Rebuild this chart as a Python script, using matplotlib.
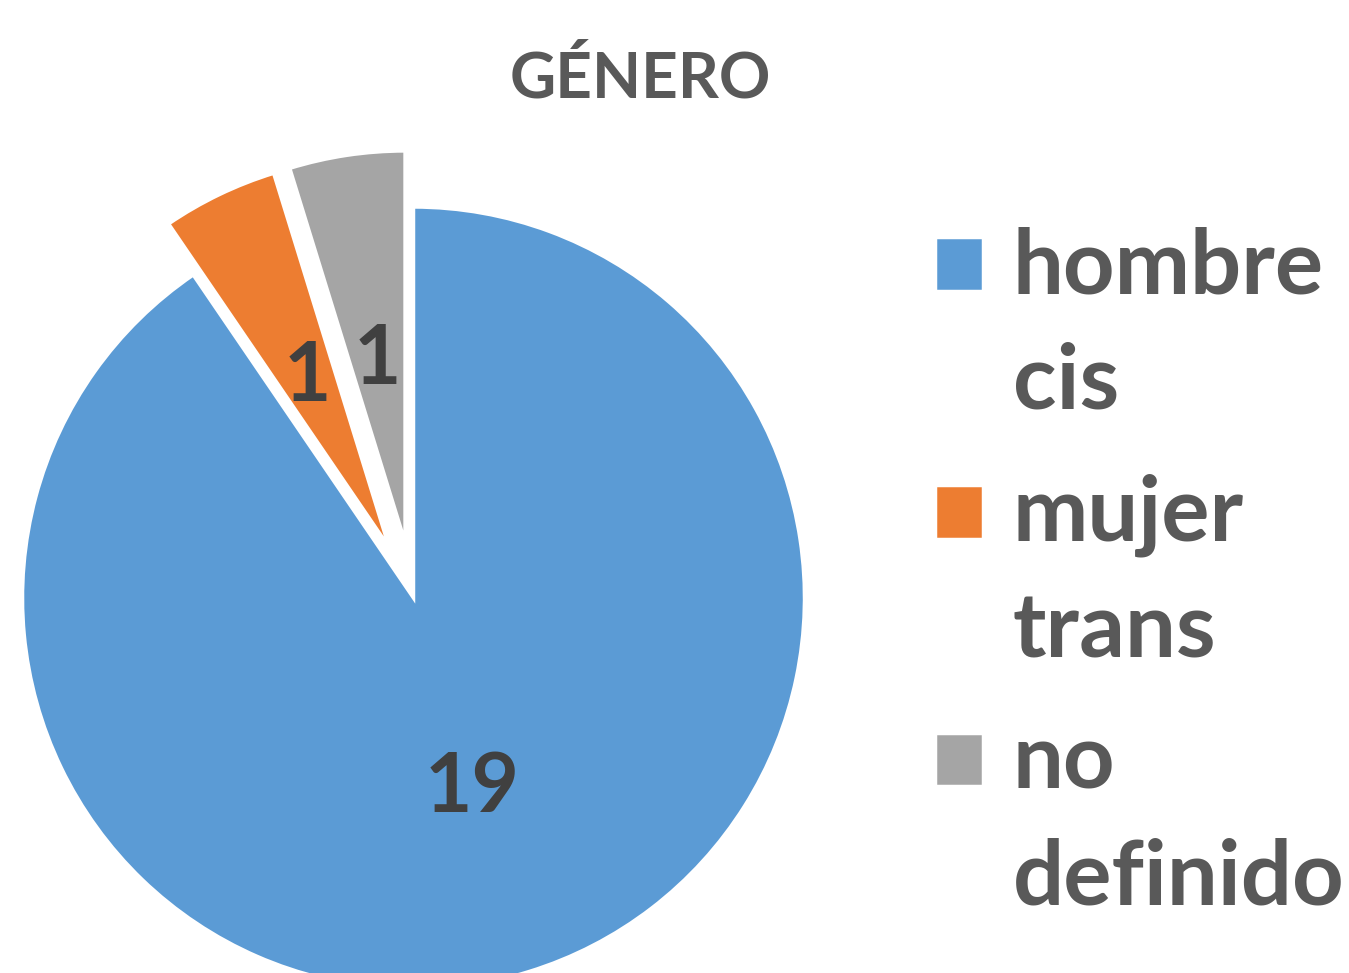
import matplotlib
matplotlib.use("Agg")
import matplotlib.pyplot as plt
import numpy as np
from matplotlib.patches import Rectangle
from matplotlib.legend_handler import HandlerPatch

categories = ["hombre\ncis", "mujer\ntrans", "no\ndefinido"]
values = [19, 1, 1]
colors = ["#5B9BD5", "#ED7D31", "#A5A5A5"]
explode = [0.0, 0.145, 0.145]
title = "GÉNERO"

plt.rcParams['font.family'] = ['Lato', 'DejaVu Sans']

W, H = 1349, 973
fig = plt.figure(figsize=(W / 100, H / 100), dpi=100)
ax = fig.add_axes([0, 0, 1, 1])

cx, cy, R = 413.5, 598, 391  # pixel position of centre and radius
wedges, texts, autotexts = ax.pie(
    values, colors=colors, explode=explode, startangle=90, counterclock=False,
    autopct=lambda p: f"{round(p * sum(values) / 100)}", pctdistance=0.48,
    wedgeprops=dict(edgecolor="white", linewidth=2.5),
    textprops=dict(fontsize=59, fontweight="bold", color="#404040"),
)
pct_d = [0.51, 0.48, 0.47]
for w, t, d in zip(wedges, autotexts, pct_d):
    ang = np.deg2rad((w.theta1 + w.theta2) / 2)
    x0, y0 = w.center
    t.set_position((x0 + d * w.r * np.cos(ang), y0 + d * w.r * np.sin(ang)))

ax.set_aspect('auto')
ax.set_xlim(-cx / R, (W - cx) / R)
ax.set_ylim(-(H - cy) / R, cy / R)
ax.axis('off')

fig.text(640 / W, 1 - 98 / H, title, ha='center', va='baseline',
         fontsize=46, fontweight='bold', color='#595959')

def offset_square(legend, orig_handle, xdescent, ydescent, width, height, fontsize):
    return Rectangle((-xdescent, -ydescent + 0.69 * fontsize), width, height)

leg = fig.legend(
    wedges, categories, loc='upper left', bbox_to_anchor=(935 / W, 1 - 226 / H),
    frameon=False, fontsize=65, handlelength=0.53, handleheight=0.53,
    handletextpad=0.33, labelspacing=0.55, borderpad=0, borderaxespad=0,
    handler_map={w: HandlerPatch(patch_func=offset_square) for w in wedges},
)
for t in leg.get_texts():
    t.set_fontweight('bold')
    t.set_color('#595959')
    t.set_linespacing(1.5)

fig.savefig("out.png", dpi=100)
